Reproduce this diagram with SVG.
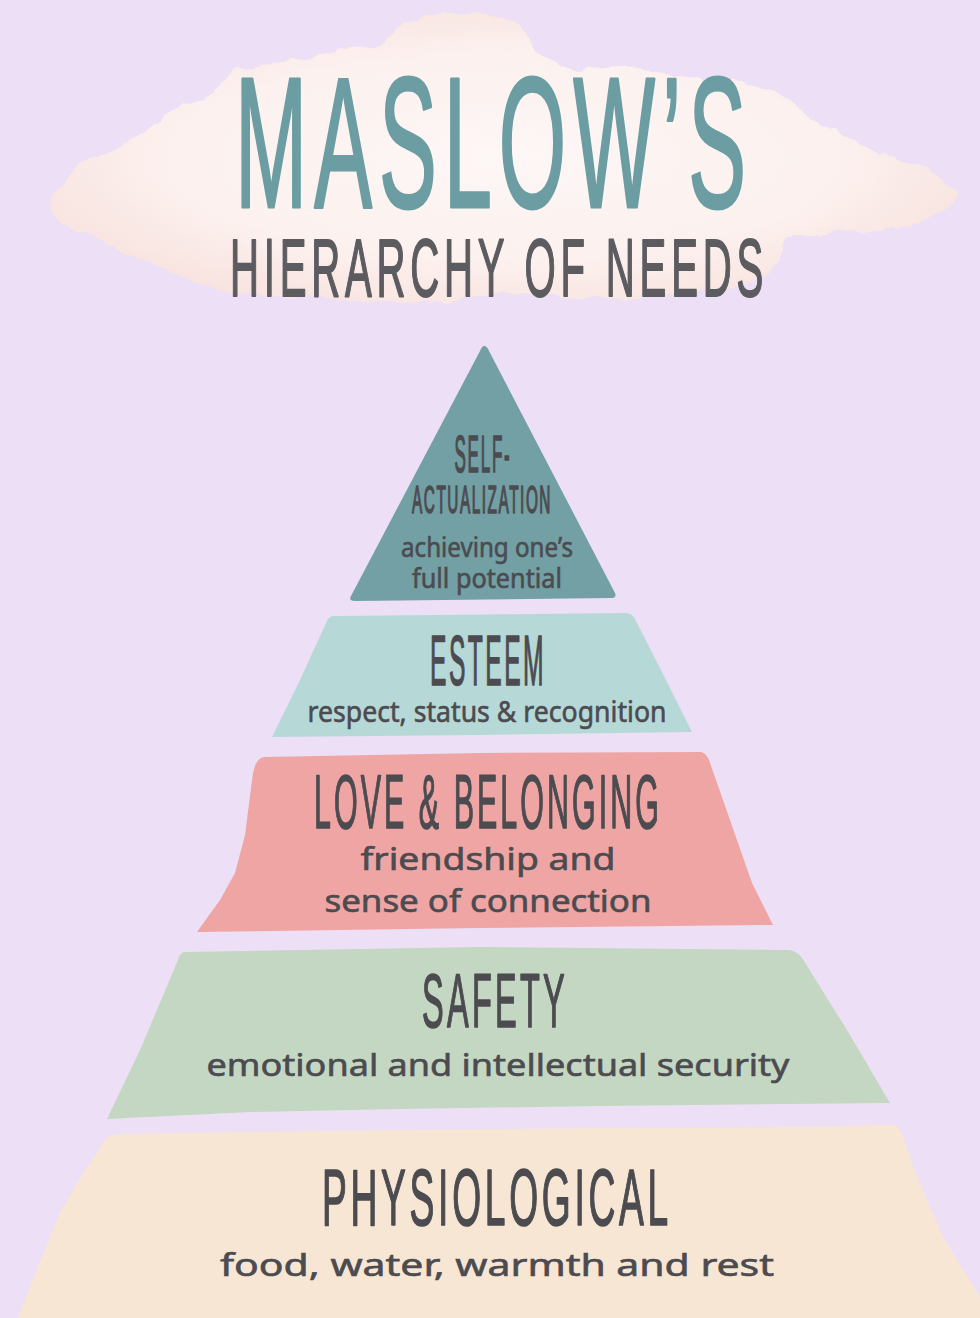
<svg xmlns="http://www.w3.org/2000/svg" width="980" height="1318" viewBox="0 0 980 1318">
<defs>
<radialGradient id="cloudGrad" cx="0.5" cy="0.5" r="0.6">
<stop offset="0" stop-color="#fdf7f5"/>
<stop offset="0.6" stop-color="#fcf1ef"/>
<stop offset="1" stop-color="#f7e0db"/>
</radialGradient>
<filter id="rough" x="-5%" y="-10%" width="110%" height="120%">
<feTurbulence type="fractalNoise" baseFrequency="0.035" numOctaves="3" seed="4" result="n"/>
<feDisplacementMap in="SourceGraphic" in2="n" scale="14" xChannelSelector="R" yChannelSelector="G"/>
</filter>
<style>
.cap{font-family:"Liberation Sans",Arial,sans-serif;font-weight:400;fill:#4b4b50;stroke:#4b4b50;stroke-width:1.6;stroke-linejoin:round;text-anchor:middle;letter-spacing:0.1em}
.low{font-family:"Noto Sans","Open Sans",sans-serif;fill:#4b4b50;stroke:#4b4b50;stroke-width:0.6;text-anchor:middle}
.title{font-family:"Liberation Sans",Arial,sans-serif;font-weight:400;fill:#6b9da3;stroke:#6b9da3;stroke-width:3;stroke-linejoin:round;text-anchor:middle;letter-spacing:0.08em}
.sub{font-family:"Liberation Sans",Arial,sans-serif;font-weight:400;fill:#5c5c60;stroke:#5c5c60;stroke-width:1.8;stroke-linejoin:round;text-anchor:middle;letter-spacing:0.12em}
</style>
</defs>
<rect width="980" height="1318" fill="#ede0f6"/>

<g id="title">
<path filter="url(#rough)" fill="url(#cloudGrad)" d="M53,193 C70,170 80,160 94,157 C115,150 130,140 144,133 C160,120 165,112 175,110 C190,104 198,102 206,100 C220,90 225,75 237,70 C260,62 275,62 294,60 C315,56 335,55 350,50 C368,45 378,42 387,37 C395,30 398,25 406,23 C420,19 435,17 450,17 C470,15 488,13 500,15 C512,18 520,25 525,33 C532,45 536,52 544,57 C555,65 565,70 575,70 C595,70 615,66 637,67 C655,70 670,75 687,77 C715,80 740,82 762,87 C780,92 792,100 800,107 C812,117 820,125 831,130 C850,140 870,146 887,153 C905,160 925,168 937,177 C948,184 955,188 956,193 C957,203 952,209 944,213 C930,220 915,225 900,227 C880,230 858,231 837,233 C815,235 798,236 787,240 C778,248 779,258 775,267 C770,276 760,281 750,283 C725,289 700,291 675,293 C645,296 615,298 587,298 C560,298 530,293 500,293 C478,294 458,300 437,300 C408,301 378,300 350,300 C320,299 290,296 262,293 C243,291 226,290 212,287 C190,281 170,274 156,267 C145,261 135,257 125,253 C110,246 95,238 81,230 C70,224 62,219 56,213 C50,206 48,199 53,193 Z"/>
<text class="title" x="494" y="207" font-size="186" textLength="518" lengthAdjust="spacingAndGlyphs">MASLOW’S</text>
<text class="sub" x="499" y="296" font-size="82" textLength="538" lengthAdjust="spacingAndGlyphs">HIERARCHY OF NEEDS</text>
</g>

<g id="self-actualization">
<path fill="#72a0a4" d="M484,346 Q487,346 489,351 L615,593 Q617,598 611,598 L355,601 Q348,601 351,596 L480,351 Q482,346 484,346 Z"/>
<text class="cap" x="483" y="472" font-size="51" textLength="57" lengthAdjust="spacingAndGlyphs">SELF-</text>
<text class="cap" x="482" y="513" font-size="38" textLength="140" lengthAdjust="spacingAndGlyphs">ACTUALIZATION</text>
<text class="low" x="487" y="557" font-size="27" textLength="172" lengthAdjust="spacingAndGlyphs">achieving one’s</text>
<text class="low" x="487" y="588" font-size="27" textLength="150" lengthAdjust="spacingAndGlyphs">full potential</text>
</g>

<g id="esteem">
<path fill="#b6d9d8" d="M334,616 L626,613 Q632,613 635,619 L662,672 L692,732 L480,735 L272,737 L300,680 L327,621 Q329,616 334,616 Z"/>
<text class="cap" x="488" y="685" font-size="71" textLength="116" lengthAdjust="spacingAndGlyphs">ESTEEM</text>
<text class="low" x="487" y="722" font-size="29" textLength="359" lengthAdjust="spacingAndGlyphs">respect, status &amp; recognition</text>
</g>

<g id="love-belonging">
<path fill="#efa5a3" d="M264,757 L480,753 L701,752 Q706,753 709,760 L730,820 L752,883 L773,925 L480,928 L197,932 L220,900 L235,873 L245,835 L253,773 Q256,758 264,757 Z"/>
<text class="cap" x="488" y="828" font-size="76" textLength="348" lengthAdjust="spacingAndGlyphs">LOVE &amp; BELONGING</text>
<text class="low" x="488" y="870" font-size="31" textLength="255" lengthAdjust="spacingAndGlyphs">friendship and</text>
<text class="low" x="488" y="912" font-size="31" textLength="327" lengthAdjust="spacingAndGlyphs">sense of connection</text>
</g>

<g id="safety">
<path fill="#c4d7c2" d="M185,952 L480,947 L790,950 Q799,952 804,961 L850,1035 L890,1103 L600,1106 L400,1109 L250,1112 L107,1119 L140,1050 L178,960 Q180,952 185,952 Z"/>
<text class="cap" x="495" y="1027" font-size="76" textLength="146" lengthAdjust="spacingAndGlyphs">SAFETY</text>
<text class="low" x="498" y="1076" font-size="31" textLength="583" lengthAdjust="spacingAndGlyphs">emotional and intellectual security</text>
</g>

<g id="physiological">
<path fill="#f6e6d3" d="M116,1134 L400,1130 L600,1128 L800,1127 L893,1125 Q900,1126 904,1140 L917,1177 L943,1237 L980,1297 L980,1318 L18,1318 L40,1262 L60,1213 L85,1170 L100,1148 Q106,1135 116,1134 Z"/>
<text class="cap" x="497" y="1225" font-size="80" textLength="350" lengthAdjust="spacingAndGlyphs">PHYSIOLOGICAL</text>
<text class="low" x="497" y="1276" font-size="31" textLength="554" lengthAdjust="spacingAndGlyphs">food, water, warmth and rest</text>
</g>

<g id="connectors"/>
</svg>
